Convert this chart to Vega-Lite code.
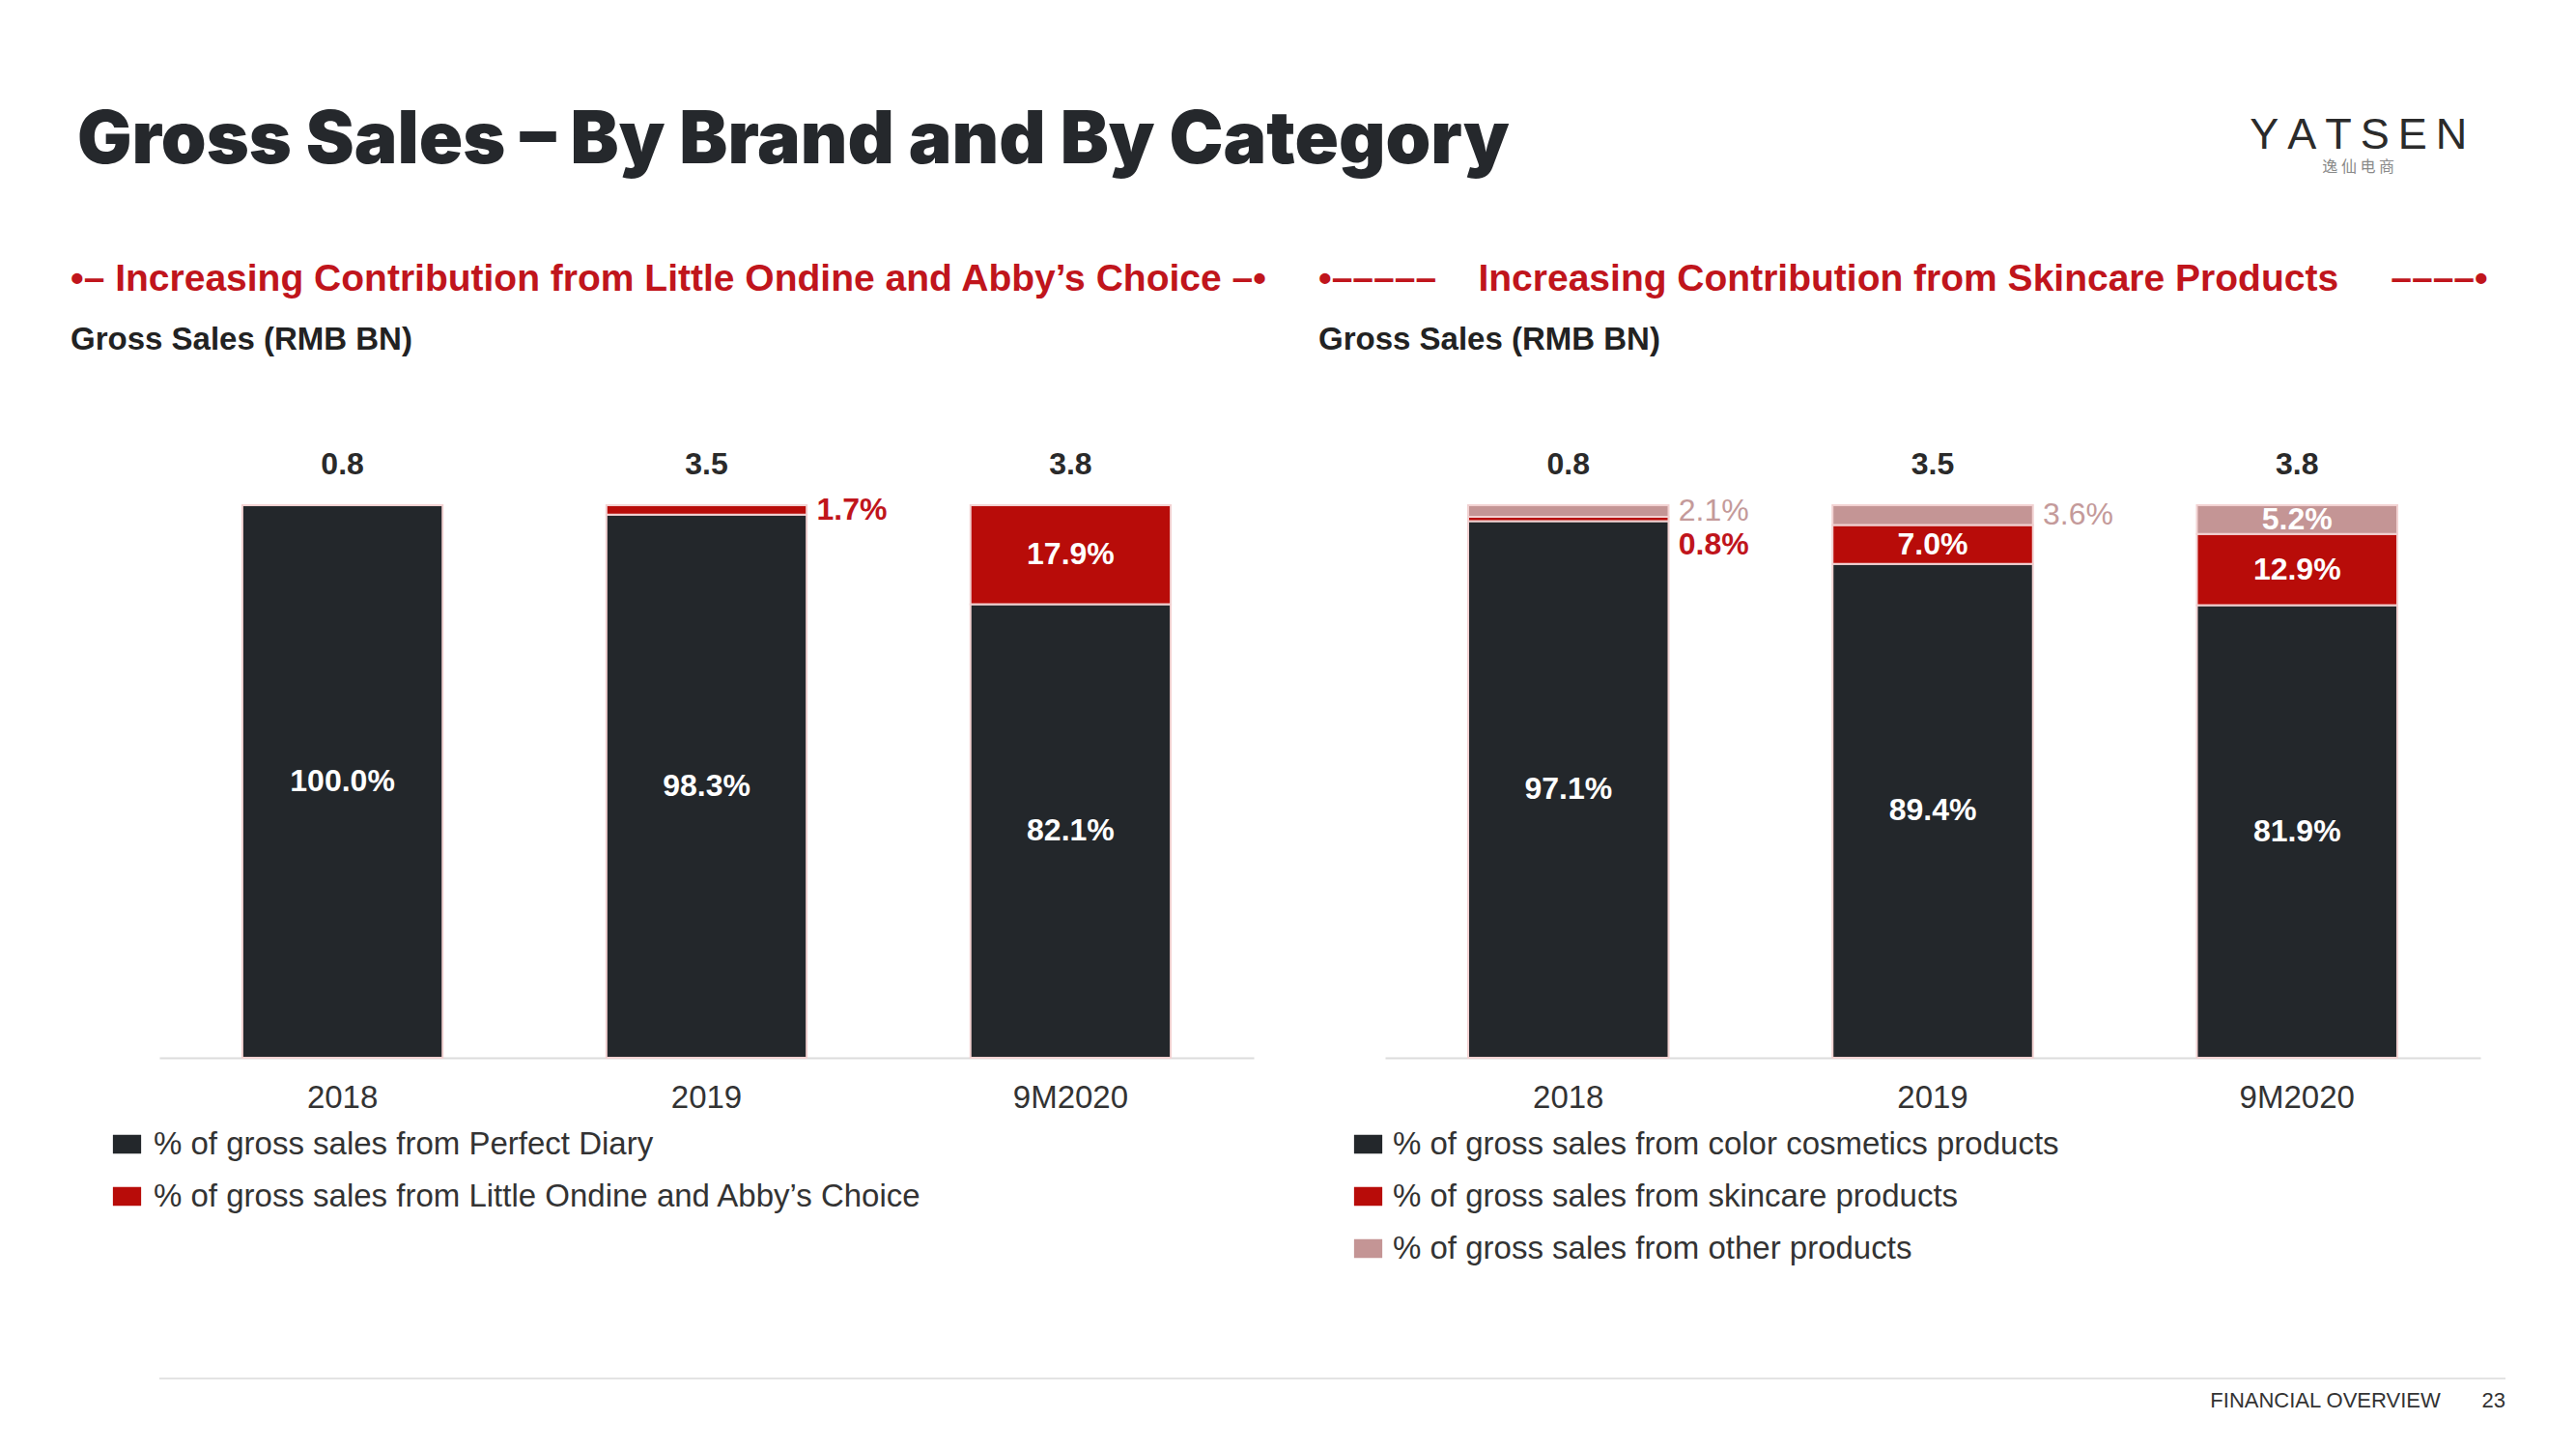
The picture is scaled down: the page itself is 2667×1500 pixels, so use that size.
{
  "$schema": "https://vega.github.io/schema/vega-lite/v6.json",
  "background": "white",
  "padding": {"left": 73, "top": 109, "right": 0, "bottom": 0},
  "config": {"font": "Liberation Sans", "view": {"stroke": null}},
  "title": {
    "text": "Gross Sales – By Brand and By Category",
    "anchor": "start", "frame": "bounds", "orient": "top",
    "fontSize": 75, "fontWeight": 900, "color": "#25282c", "font": "Inter",
    "offset": 0, "dx": 7, "dy": 67
  },
  "spacing": 116,
  "vconcat": [
    {
      "spacing": 52,
      "resolve": {"scale": {"color": "independent"}, "legend": {"color": "independent"}},
      "title": {
        "text": "Y\u2009A\u2009T\u2009S\u2009E\u2009N",
        "subtitle": "逸\u00a0仙\u00a0电\u00a0商",
        "anchor": "end", "align": "center", "frame": "bounds", "orient": "top",
        "fontSize": 45, "fontWeight": "normal", "color": "#2b2b2b", "font": "Liberation Sans",
        "subtitleFont": "Noto Sans CJK SC", "subtitleFontSize": 16, "subtitleColor": "#8a8a8a", "subtitlePadding": 2,
        "offset": 89, "dx": -134
      },
      "hconcat": [
        {
          "width": 1133, "height": 572,
          "title": {
            "text": "•– Increasing Contribution from Little Ondine and Abby’s Choice –•",
            "subtitle": "Gross Sales (RMB BN)",
            "anchor": "start", "frame": "group", "dx": -92, "offset": 96,
            "fontSize": 39, "fontWeight": "bold", "color": "#c0151c", "font": "Liberation Sans",
            "subtitleFont": "Liberation Sans", "subtitleFontSize": 33, "subtitleFontWeight": "bold", "subtitleColor": "#222222", "subtitlePadding": 27
          },
          "data": {"values": [
            {"period": "2018", "category": "% of gross sales from Perfect Diary", "rank": 1, "share": 1.0, "total": 0.8},
            {"period": "2018", "category": "% of gross sales from Little Ondine and Abby’s Choice", "rank": 2, "share": 0.0, "total": 0.8},
            {"period": "2019", "category": "% of gross sales from Perfect Diary", "rank": 1, "share": 0.983, "total": 3.5},
            {"period": "2019", "category": "% of gross sales from Little Ondine and Abby’s Choice", "rank": 2, "share": 0.017, "total": 3.5},
            {"period": "9M2020", "category": "% of gross sales from Perfect Diary", "rank": 1, "share": 0.821, "total": 3.8},
            {"period": "9M2020", "category": "% of gross sales from Little Ondine and Abby’s Choice", "rank": 2, "share": 0.179, "total": 3.8}
          ]},
          "encoding": {
            "x": {
              "field": "period", "type": "nominal", "sort": ["2018", "2019", "9M2020"],
              "scale": {"paddingInner": 0.45, "paddingOuter": 0.228},
              "axis": {"title": null, "labelAngle": 0, "labelFontSize": 33, "labelColor": "#333333", "labelFont": "Liberation Sans",
                       "ticks": false, "domainColor": "#dcdcdc", "domainWidth": 2, "labelPadding": 25, "grid": false}
            }
          },
          "layer": [
            {
              "transform": [{"filter": "datum.share > 0"}],
              "mark": {"type": "bar", "stroke": "#f2d2d2", "strokeWidth": 2},
              "encoding": {
                "y": {"field": "share", "type": "quantitative", "stack": "zero", "scale": {"domain": [0, 1], "nice": false}, "axis": null},
                "color": {
                  "field": "category", "type": "nominal",
                  "scale": {"domain": ["% of gross sales from Perfect Diary", "% of gross sales from Little Ondine and Abby’s Choice"], "range": ["#23272b", "#b80c09"]},
                  "legend": {"orient": "none", "legendX": -50, "legendY": 645, "title": null, "labelFontSize": 33, "labelFont": "Liberation Sans", "labelColor": "#333333",
                             "symbolType": "M-1.5,-1H1.5V1H-1.5Z", "symbolSize": 380, "symbolStrokeWidth": 0, "labelOffset": 11, "rowPadding": 20, "padding": 0, "labelLimit": 1200}
                },
                "order": {"field": "rank", "type": "quantitative"}
              }
            },
            {
              "transform": [
                {"stack": "share", "groupby": ["period"], "sort": [{"field": "rank", "order": "ascending"}], "as": ["y0", "y1"]},
                {"calculate": "(datum.y0 + datum.y1) / 2", "as": "ymid"},
                {"filter": "datum.share >= 0.05"}
              ],
              "mark": {"type": "text", "color": "white", "fontSize": 32, "fontWeight": "bold", "baseline": "middle"},
              "encoding": {
                "y": {"field": "ymid", "type": "quantitative", "stack": null, "scale": {"domain": [0, 1], "nice": false}, "axis": null},
                "text": {"field": "share", "type": "quantitative", "format": ".1%"}
              }
            },
            {
              "transform": [
                {"stack": "share", "groupby": ["period"], "sort": [{"field": "rank", "order": "ascending"}], "as": ["y0", "y1"]},
                {"calculate": "(datum.y0 + datum.y1) / 2", "as": "ymid"},
                {"filter": "datum.share > 0 && datum.share < 0.05"}
              ],
              "mark": {"type": "text", "color": "#c0151c", "fontSize": 32, "fontWeight": "bold", "baseline": "middle", "align": "left", "dx": 114},
              "encoding": {
                "y": {"field": "ymid", "type": "quantitative", "stack": null, "scale": {"domain": [0, 1], "nice": false}, "axis": null},
                "text": {"field": "share", "type": "quantitative", "format": ".1%"}
              }
            },
            {
              "mark": {"type": "text", "color": "#2a2a2a", "fontSize": 32, "fontWeight": "bold", "baseline": "middle", "dy": -42},
              "encoding": {
                "y": {"aggregate": "sum", "field": "share", "type": "quantitative", "stack": null, "scale": {"domain": [0, 1], "nice": false}, "axis": null},
                "text": {"aggregate": "max", "field": "total", "type": "quantitative", "format": ".1f"}
              }
            }
          ]
        },
        {
          "width": 1134, "height": 572,
          "title": {
            "text": "•–––––\u00a0\u00a0\u00a0\u00a0Increasing Contribution from Skincare Products\u00a0\u00a0\u00a0\u00a0\u00a0––––•",
            "subtitle": "Gross Sales (RMB BN)",
            "anchor": "start", "frame": "group", "dx": -69, "offset": 96,
            "fontSize": 39, "fontWeight": "bold", "color": "#c0151c", "font": "Liberation Sans",
            "subtitleFont": "Liberation Sans", "subtitleFontSize": 33, "subtitleFontWeight": "bold", "subtitleColor": "#222222", "subtitlePadding": 27
          },
          "data": {"values": [
            {"period": "2018", "category": "% of gross sales from color cosmetics products", "rank": 1, "share": 0.971, "total": 0.8},
            {"period": "2018", "category": "% of gross sales from skincare products", "rank": 2, "share": 0.008, "total": 0.8},
            {"period": "2018", "category": "% of gross sales from other products", "rank": 3, "share": 0.021, "total": 0.8},
            {"period": "2019", "category": "% of gross sales from color cosmetics products", "rank": 1, "share": 0.894, "total": 3.5},
            {"period": "2019", "category": "% of gross sales from skincare products", "rank": 2, "share": 0.07, "total": 3.5},
            {"period": "2019", "category": "% of gross sales from other products", "rank": 3, "share": 0.036, "total": 3.5},
            {"period": "9M2020", "category": "% of gross sales from color cosmetics products", "rank": 1, "share": 0.819, "total": 3.8},
            {"period": "9M2020", "category": "% of gross sales from skincare products", "rank": 2, "share": 0.129, "total": 3.8},
            {"period": "9M2020", "category": "% of gross sales from other products", "rank": 3, "share": 0.052, "total": 3.8}
          ]},
          "encoding": {
            "x": {
              "field": "period", "type": "nominal", "sort": ["2018", "2019", "9M2020"],
              "scale": {"paddingInner": 0.45, "paddingOuter": 0.228},
              "axis": {"title": null, "labelAngle": 0, "labelFontSize": 33, "labelColor": "#333333", "labelFont": "Liberation Sans",
                       "ticks": false, "domainColor": "#dcdcdc", "domainWidth": 2, "labelPadding": 25, "grid": false}
            }
          },
          "layer": [
            {
              "transform": [{"filter": "datum.share > 0"}],
              "mark": {"type": "bar", "stroke": "#f2d2d2", "strokeWidth": 2},
              "encoding": {
                "y": {"field": "share", "type": "quantitative", "stack": "zero", "scale": {"domain": [0, 1], "nice": false}, "axis": null},
                "color": {
                  "field": "category", "type": "nominal",
                  "scale": {"domain": ["% of gross sales from color cosmetics products", "% of gross sales from skincare products", "% of gross sales from other products"], "range": ["#23272b", "#b80c09", "#c49595"]},
                  "legend": {"orient": "none", "legendX": -34, "legendY": 645, "title": null, "labelFontSize": 33, "labelFont": "Liberation Sans", "labelColor": "#333333",
                             "symbolType": "M-1.5,-1H1.5V1H-1.5Z", "symbolSize": 380, "symbolStrokeWidth": 0, "labelOffset": 9, "rowPadding": 20, "padding": 0, "labelLimit": 1200}
                },
                "order": {"field": "rank", "type": "quantitative"}
              }
            },
            {
              "transform": [
                {"stack": "share", "groupby": ["period"], "sort": [{"field": "rank", "order": "ascending"}], "as": ["y0", "y1"]},
                {"calculate": "(datum.y0 + datum.y1) / 2", "as": "ymid"},
                {"filter": "datum.share >= 0.05"}
              ],
              "mark": {"type": "text", "color": "white", "fontSize": 32, "fontWeight": "bold", "baseline": "middle"},
              "encoding": {
                "y": {"field": "ymid", "type": "quantitative", "stack": null, "scale": {"domain": [0, 1], "nice": false}, "axis": null},
                "text": {"field": "share", "type": "quantitative", "format": ".1%"}
              }
            },
            {
              "transform": [
                {"stack": "share", "groupby": ["period"], "sort": [{"field": "rank", "order": "ascending"}], "as": ["y0", "y1"]},
                {"calculate": "(datum.y0 + datum.y1) / 2", "as": "ymid"},
                {"filter": "datum.share >= 0.01 && datum.share < 0.05"}
              ],
              "mark": {"type": "text", "color": "#c49a9a", "fontSize": 32, "fontWeight": "normal", "baseline": "middle", "align": "left", "dx": 114},
              "encoding": {
                "y": {"field": "ymid", "type": "quantitative", "stack": null, "scale": {"domain": [0, 1], "nice": false}, "axis": null},
                "text": {"field": "share", "type": "quantitative", "format": ".1%"}
              }
            },
            {
              "transform": [
                {"stack": "share", "groupby": ["period"], "sort": [{"field": "rank", "order": "ascending"}], "as": ["y0", "y1"]},
                {"calculate": "(datum.y0 + datum.y1) / 2", "as": "ymid"},
                {"filter": "datum.share > 0 && datum.share < 0.01"}
              ],
              "mark": {"type": "text", "color": "#c0151c", "fontSize": 32, "fontWeight": "bold", "baseline": "middle", "align": "left", "dx": 114, "dy": 27},
              "encoding": {
                "y": {"field": "ymid", "type": "quantitative", "stack": null, "scale": {"domain": [0, 1], "nice": false}, "axis": null},
                "text": {"field": "share", "type": "quantitative", "format": ".1%"}
              }
            },
            {
              "mark": {"type": "text", "color": "#2a2a2a", "fontSize": 32, "fontWeight": "bold", "baseline": "middle", "dy": -42},
              "encoding": {
                "y": {"aggregate": "sum", "field": "share", "type": "quantitative", "stack": null, "scale": {"domain": [0, 1], "nice": false}, "axis": null},
                "text": {"aggregate": "max", "field": "total", "type": "quantitative", "format": ".1f"}
              }
            }
          ]
        }
      ]
    },
    {
      "width": 2429, "height": 2,
      "data": {"values": [{"line": 1}]},
      "mark": {"type": "rule", "color": "#e3e3e3", "strokeWidth": 2},
      "encoding": {"y": {"field": "line", "type": "quantitative", "scale": {"domain": [0, 1]}, "axis": null}},
      "title": {
        "text": "FINANCIAL OVERVIEW\u00a0\u00a0\u00a0\u00a0\u00a0\u00a0\u00a023",
        "orient": "bottom", "anchor": "end", "frame": "group",
        "fontSize": 22, "fontWeight": "normal", "color": "#333333", "font": "Liberation Sans", "offset": 11
      }
    }
  ]
}
